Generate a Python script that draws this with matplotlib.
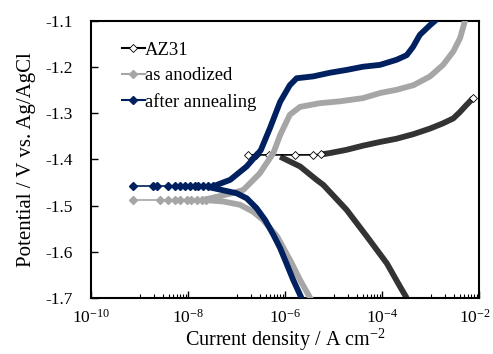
import numpy as np
import matplotlib
matplotlib.use("Agg")
import matplotlib.pyplot as plt
from matplotlib.ticker import FixedLocator, NullFormatter
from matplotlib.lines import Line2D
from matplotlib.transforms import ScaledTranslation

# ---------------- data (log10 of current density in A cm-2, potential in V) ----------------
# AZ31
az31_flat_logi = [-6.76, -6.59, -6.34, -5.79, -5.42, -5.25]
az31_flat_E = [-1.390, -1.390, -1.390, -1.390, -1.390, -1.389]
az31_anodic_logi = [-5.25, -5.07, -4.73, -4.39, -4.04, -3.70, -3.35, -3.01, -2.75, -2.53, -2.40, -2.26, -2.12]
az31_anodic_E = [-1.389, -1.386, -1.379, -1.370, -1.362, -1.355, -1.345, -1.333, -1.322, -1.311, -1.298, -1.282, -1.267]
az31_cathodic_logi = [-6.10, -5.69, -5.35, -5.21, -4.73, -4.31, -3.90, -3.63, -3.49]
az31_cathodic_E = [-1.394, -1.415, -1.444, -1.455, -1.509, -1.567, -1.625, -1.675, -1.700]

# as anodized
ano_flat_logi = [-9.13, -8.58, -8.41, -8.27, -8.16, -8.03, -7.93, -7.82, -7.72, -7.62]
ano_flat_E = [-1.487] * 10
ano_anodic_logi = [-7.62, -7.13, -6.86, -6.52, -6.24, -6.10, -5.90, -5.69, -5.28, -4.87,
                   -4.39, -4.04, -3.70, -3.35, -3.01, -2.74, -2.53, -2.39, -2.29]
ano_anodic_E = [-1.486, -1.474, -1.466, -1.430, -1.386, -1.347, -1.303, -1.286, -1.278, -1.274,
                -1.267, -1.256, -1.249, -1.239, -1.220, -1.195, -1.166, -1.137, -1.100]
ano_cathodic_logi = [-7.62, -7.27, -6.93, -6.66, -6.45, -6.16, -5.86, -5.69, -5.48]
ano_cathodic_E = [-1.488, -1.491, -1.498, -1.513, -1.531, -1.567, -1.625, -1.661, -1.700]

# after annealing
ann_flat_logi = [-9.14, -8.72, -8.63, -8.41, -8.27, -8.16, -8.06, -7.96, -7.86, -7.79, -7.69, -7.58, -7.48]
ann_flat_E = [-1.458] * 13
ann_anodic_logi = [-7.48, -7.13, -6.79, -6.50, -6.31, -6.10, -5.90, -5.76, -5.42, -5.07,
                   -4.73, -4.39, -4.04, -3.70, -3.49, -3.36, -3.22, -3.01, -2.91]
ann_anodic_E = [-1.458, -1.444, -1.415, -1.380, -1.332, -1.275, -1.239, -1.224, -1.220, -1.212,
                -1.206, -1.199, -1.195, -1.184, -1.174, -1.156, -1.130, -1.109, -1.100]
ann_cathodic_logi = [-7.48, -7.00, -6.79, -6.59, -6.41, -6.24, -6.10, -5.97, -5.83, -5.66]
ann_cathodic_E = [-1.462, -1.473, -1.484, -1.505, -1.531, -1.563, -1.592, -1.625, -1.661, -1.700]

series_labels = ["AZ31", "as anodized", "after annealing"]
x_tick_values = [1e-10, 1e-8, 1e-6, 1e-4, 1e-2]
x_tick_labels = ["$10^{-10}$", "$10^{-8}$", "$10^{-6}$", "$10^{-4}$", "$10^{-2}$"]
y_tick_values = [-1.7, -1.6, -1.5, -1.4, -1.3, -1.2, -1.1]
y_tick_labels = ["-1.7", "-1.6", "-1.5", "-1.4", "-1.3", "-1.2", "-1.1"]

# ---------------- style ----------------
plt.rcParams["font.family"] = ["Liberation Serif", "DejaVu Serif"]
plt.rcParams["mathtext.fontset"] = "custom"
plt.rcParams["mathtext.rm"] = "Liberation Serif"
plt.rcParams["mathtext.it"] = "Liberation Serif:italic"

NAVY = "#002060"
GRAY = "#a6a6a6"
DARK = "#333333"

def p10(a):
    return np.power(10.0, np.asarray(a, dtype=float))

fig = plt.figure(figsize=(4.93, 3.54), dpi=100)
ax = fig.add_axes([91 / 493, 56 / 354, 388 / 493, 277 / 354])

band = 4.2
# AZ31
ax.plot(p10(az31_cathodic_logi), az31_cathodic_E, color=DARK, lw=band, solid_capstyle="butt",
        solid_joinstyle="round", zorder=2)
ax.plot(p10(az31_anodic_logi), az31_anodic_E, color=DARK, lw=band, solid_capstyle="butt",
        solid_joinstyle="round", zorder=2)
ax.plot(p10(az31_flat_logi), az31_flat_E, color="black", lw=1.2, marker="D", ms=3.6,
        mfc="white", mec="black", mew=0.6, zorder=3)
ax.plot(p10(az31_anodic_logi[-1:]), az31_anodic_E[-1:], ls="none", marker="D", ms=3.6,
        mfc="white", mec="black", mew=0.6, zorder=3)
# as anodized
ax.plot(p10(ano_cathodic_logi), ano_cathodic_E, color=GRAY, lw=band, solid_joinstyle="round", zorder=4)
ax.plot(p10(ano_anodic_logi), ano_anodic_E, color=GRAY, lw=band, solid_joinstyle="round", zorder=4)
ax.plot(p10(ano_flat_logi), ano_flat_E, color=GRAY, lw=1.2, marker="D", ms=3.6,
        mfc=GRAY, mec=GRAY, zorder=4)
# after annealing
ax.plot(p10(ann_cathodic_logi), ann_cathodic_E, color=NAVY, lw=band, solid_joinstyle="round", zorder=5)
ax.plot(p10(ann_anodic_logi), ann_anodic_E, color=NAVY, lw=band, solid_joinstyle="round", zorder=5)
ax.plot(p10(ann_flat_logi), ann_flat_E, color=NAVY, lw=1.2, marker="D", ms=3.6,
        mfc=NAVY, mec=NAVY, zorder=5)

ax.set_xscale("log")
ax.set_xlim(1e-10, 1e-2)
ax.set_ylim(-1.7, -1.1)

ax.xaxis.set_major_locator(FixedLocator(x_tick_values))
ax.set_xticklabels(x_tick_labels)
minor = [k * 10.0 ** e for e in (-9, -7, -5, -3) for k in range(1, 10)]
ax.xaxis.set_minor_locator(FixedLocator(minor))
ax.xaxis.set_minor_formatter(NullFormatter())
ax.set_yticks(y_tick_values)
ax.set_yticklabels(y_tick_labels)

ax.tick_params(axis="both", which="major", direction="in", length=5, width=1.0, labelsize=12.5)
ax.tick_params(axis="x", which="minor", direction="in", length=3, width=0.8)
ax.tick_params(axis="x", which="major", pad=8)
ax.tick_params(axis="y", which="major", pad=13)
for s in ax.spines.values():
    s.set_linewidth(1.5)

# nudge the last x tick label slightly left so it stays inside the canvas
last = ax.xaxis.get_major_ticks()[-1].label1
last.set_transform(last.get_transform() + ScaledTranslation(-0.04, 0, fig.dpi_scale_trans))

ax.set_xlabel("Current density / A cm$^{-2}$", fontsize=14.5, labelpad=0)
ax.set_ylabel("Potential / V vs. Ag/AgCl", fontsize=15, labelpad=7)

# legend
handles = [
    Line2D([], [], color="black", lw=1.5, marker="D", ms=4, mfc="white", mec="black", mew=0.6),
    Line2D([], [], color=GRAY, lw=1.5, marker="D", ms=4, mfc=GRAY, mec=GRAY),
    Line2D([], [], color=NAVY, lw=1.5, marker="D", ms=4, mfc=NAVY, mec=NAVY),
]
ax.legend(handles, series_labels, loc="upper left", bbox_to_anchor=(0.06, 0.952),
          frameon=False, fontsize=13.4, handlelength=1.25, handletextpad=0.0,
          labelspacing=0.46, borderaxespad=0.0)

fig.savefig("out.png", dpi=100)
